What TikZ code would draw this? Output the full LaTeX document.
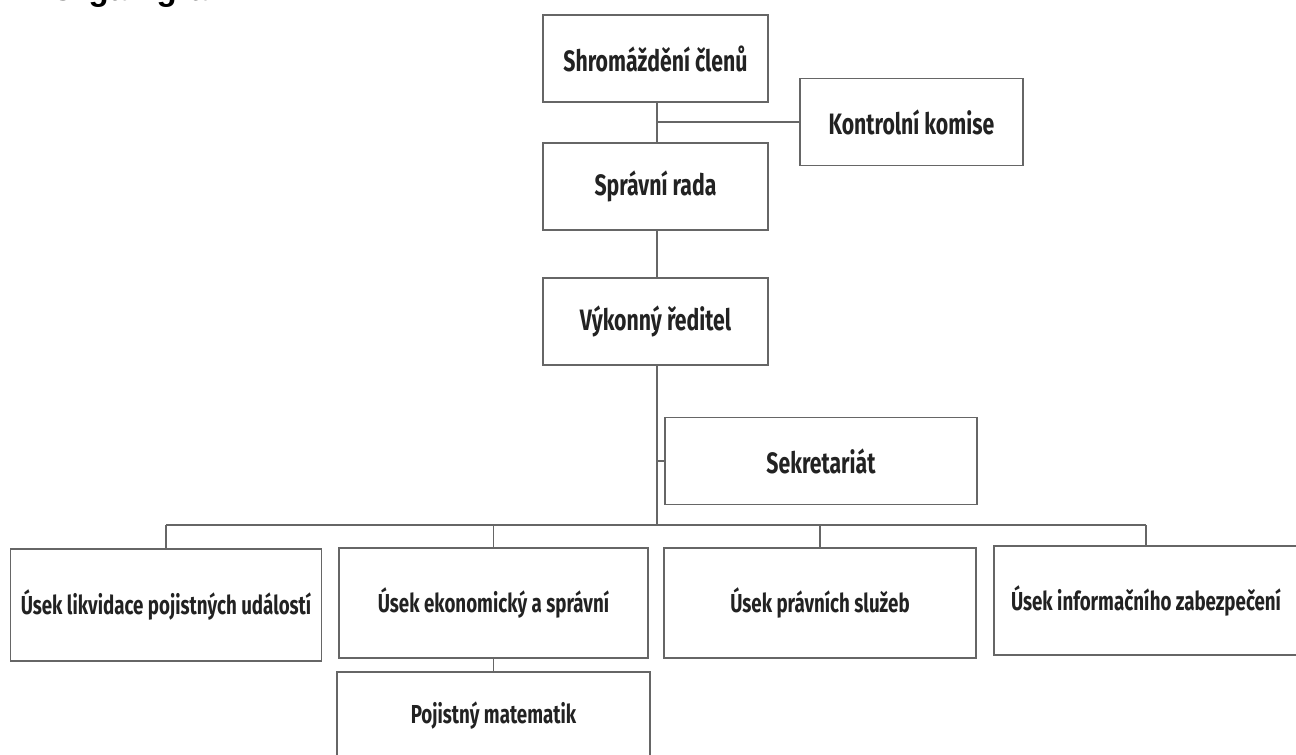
\documentclass[tikz,border=0pt]{standalone}
\usepackage{fontspec}
\setmainfont{Liberation Sans}
\newfontfamily\boxfont{Fira Sans}[FakeStretch=0.72]
\newfontfamily\titlefont{Liberation Sans}
\definecolor{linegray}{HTML}{666666}
\definecolor{textgray}{HTML}{222222}
\tikzset{
  orgbox/.style={draw=linegray, line width=1.6pt, fill=white, inner sep=0pt,
    font=\boxfont\bfseries\fontsize{26}{30}\selectfont, text=textgray},
  topbox/.style={orgbox, font=\boxfont\bfseries\fontsize{29.5}{33}\selectfont},
  conn/.style={draw=linegray, line width=1.6pt}
}
\begin{document}
\begin{tikzpicture}[x=1pt,y=-1pt]
\useasboundingbox (0,0) rectangle (1296,755);
\begin{scope}
\clip (0,0) rectangle (1296,755);
\node[anchor=base west, inner sep=0pt, font=\titlefont\bfseries\fontsize{33}{36}\selectfont] (title) at (50,0.5) {Organigram};
\node[topbox, minimum width=225pt, minimum height=87pt] (shrom) at (655.5,58.5) {Shromáždění členů};
\node[topbox, minimum width=223pt, minimum height=87pt] (kontrol) at (911.5,122) {Kontrolní komise};
\node[topbox, minimum width=225pt, minimum height=87pt] (sprav) at (655.5,186.5) {Správní rada};
\node[topbox, minimum width=225pt, minimum height=87pt] (vyk) at (655.5,321.5) {Výkonný ředitel};
\node[topbox, minimum width=312pt, minimum height=87pt] (sekr) at (821,461) {Sekretariát};
\node[orgbox, minimum width=311pt, minimum height=112pt] (u1) at (166,605) {Úsek likvidace pojistných událostí};
\node[orgbox, minimum width=309pt, minimum height=110pt] (u2) at (493.5,603) {Úsek ekonomický a správní};
\node[orgbox, minimum width=312pt, minimum height=110pt] (u3) at (820,603) {Úsek právních služeb};
\node[orgbox, minimum width=304pt, minimum height=109pt] (u4) at (1146,600.5) {Úsek informačního zabezpečení};
\node[orgbox, minimum width=313pt, minimum height=88pt] (poj) at (493.5,716) {Pojistný matematik};
\coordinate (tx) at (657,0);
\coordinate (bus) at (657,525);
\draw[conn] (shrom.south -| tx) -- (sprav.north -| tx);
\draw[conn] (kontrol.west) -- (kontrol.west -| tx);
\draw[conn] (sprav.south -| tx) -- (vyk.north -| tx);
\draw[conn] (vyk.south -| tx) -- (bus);
\draw[conn] (sekr.west) -- (sekr.west -| tx);
\draw[conn] (u1.north |- bus) -- (u4.north |- bus);
\draw[conn] (u1.north) -- (u1.north |- bus);
\draw[conn] (u2.north) -- (u2.north |- bus);
\draw[conn] (u3.north) -- (u3.north |- bus);
\draw[conn] (u4.north) -- (u4.north |- bus);
\draw[conn] (u2.south) -- (poj.north);
\end{scope}
\end{tikzpicture}
\end{document}
